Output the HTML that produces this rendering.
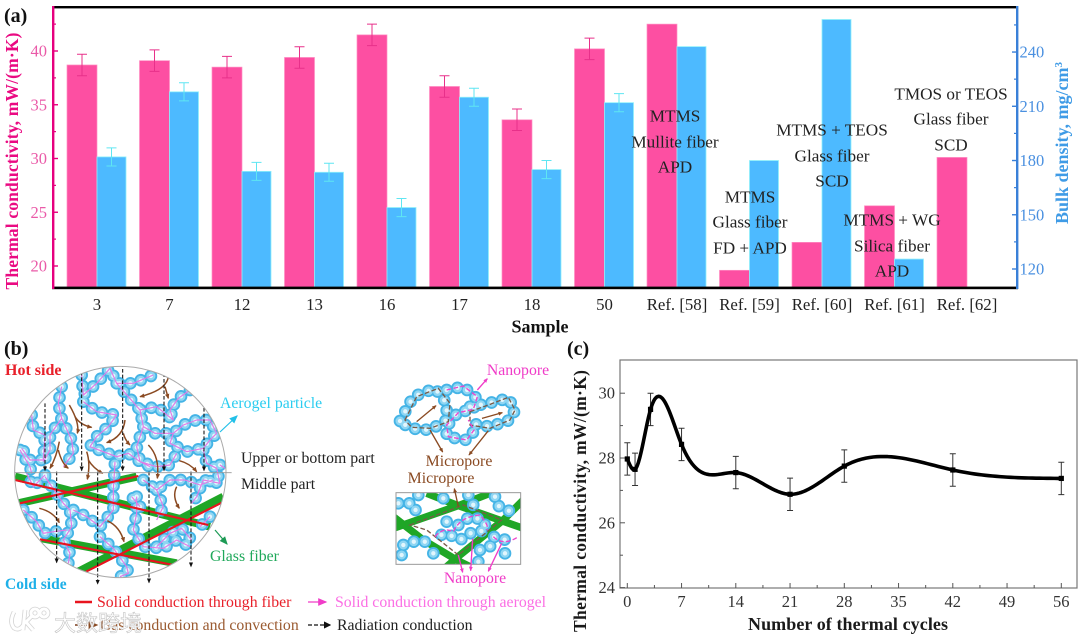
<!DOCTYPE html>
<html lang="en">
<head>
<meta charset="utf-8">
<title>Thermal conductivity of aerogel composites</title>
<style>
html,body{margin:0;padding:0;background:#fff;}
#figure{display:block;width:1080px;height:640px;font-family:"Liberation Serif","Noto Serif CJK SC",serif;filter:blur(.35px);}
text{font-family:"Liberation Serif","Noto Serif CJK SC",serif;}
.ann{font-size:17.2px;fill:#222;text-anchor:middle;}
.lab{font-size:15.8px;}
.chain-o{fill:none;stroke:#45b4e6;stroke-width:38;stroke-linecap:round;stroke-dasharray:0 33;}
.chain-m{fill:none;stroke:#8fd6f3;stroke-width:27;stroke-linecap:round;stroke-dasharray:0 33;}
.chain-i{fill:none;stroke:#e2f6fd;stroke-width:13;stroke-linecap:round;stroke-dasharray:0 33;}
.chain-p{fill:none;stroke:#e27ae6;stroke-width:3.5;stroke-linejoin:round;}
</style>
</head>
<body>
<svg id="figure" xmlns="http://www.w3.org/2000/svg" width="1080" height="640" viewBox="0 0 1080 640">
<defs>
  <marker id="ah-k" markerWidth="6" markerHeight="6" refX="5" refY="3" orient="auto"><path d="M0,0L6,3L0,6Z" fill="#111"/></marker>
  <marker id="ah-b" markerWidth="7" markerHeight="7" refX="6" refY="3.5" orient="auto"><path d="M0,0.5L7,3.5L0,6.5Z" fill="#8a4a22"/></marker>
  <marker id="ah-m" markerWidth="7" markerHeight="7" refX="6" refY="3.5" orient="auto"><path d="M0,0.5L7,3.5L0,6.5Z" fill="#f03cc8"/></marker>
  <marker id="ah-c" markerWidth="7" markerHeight="7" refX="6" refY="3.5" orient="auto"><path d="M0,0.5L7,3.5L0,6.5Z" fill="#22c0e8"/></marker>
  <marker id="ah-g" markerWidth="7" markerHeight="7" refX="6" refY="3.5" orient="auto"><path d="M0,0.5L7,3.5L0,6.5Z" fill="#1d9a55"/></marker>
  <marker id="ah-ks" markerWidth="4.5" markerHeight="4.5" viewBox="0 0 7 7" refX="6" refY="3.5" orient="auto"><path d="M0,0.5L7,3.5L0,6.5Z" fill="#111"/></marker>
  <marker id="ah-bs" markerWidth="3.4" markerHeight="3.4" viewBox="0 0 7 7" refX="6" refY="3.5" orient="auto"><path d="M0,0.5L7,3.5L0,6.5Z" fill="#8a4a22"/></marker>
  <marker id="ah-ms" markerWidth="3.4" markerHeight="3.4" viewBox="0 0 7 7" refX="6" refY="3.5" orient="auto"><path d="M0,0.5L7,3.5L0,6.5Z" fill="#f03cc8"/></marker>
  <clipPath id="clip-disc"><circle cx="361" cy="396" r="317"/></clipPath>
  <clipPath id="clip-box"><rect x="378" y="458" width="374" height="215"/></clipPath>
  <path id="chains-main" d="M95,225L100,270L135,285L130,360L90,360L65,325M185,140L175,190L185,235L150,285L150,330L130,365M245,105L250,165L290,130L330,85L350,130L400,130L460,105M250,185L290,215L350,225L325,260L290,290L270,320L310,335L350,350L385,340L420,365L450,380M350,130L385,170L420,210L430,260L465,280L520,280L550,255L590,240L630,240L650,280L630,300L610,325L560,335L510,310L520,280M570,150L535,175L510,210L520,240L470,200L420,210M185,235L215,300L220,340L190,380M430,260L410,320L420,365L470,380L510,375L530,340M610,330L620,370L650,385L660,430L610,420L590,470L575,490M135,405L100,440L80,400M135,410L190,490L210,510L215,560L190,600L210,640L205,670M70,510L110,545L130,580L160,575L200,570M220,510L260,530L300,560L340,510L340,450L345,365M300,590L340,625L380,680L385,700L360,710M410,470L410,520L400,570L430,620L490,625L530,600L570,620M430,420L470,450L510,420L555,420L600,435M470,450L490,500L470,540M630,530L600,560M60,330L90,380L95,400M470,620L510,580L545,565L575,600M600,435L640,420M660,375L675,385M420,500L395,470"/>
  <path id="chains-top" d="M390,243L430,170L495,145L530,190L530,240L480,270L420,265L390,243M530,150L580,140L620,175L610,210L565,215L530,260L530,290L590,300L615,270M600,200L655,190L715,175L735,210L720,240L660,260L600,250"/>
  <path id="chains-box" d="M385,490L430,490L440,520M445,465L446,466M520,475L510,500M595,465L610,495M675,470L680,495L710,510L740,520M530,545L515,570M565,555L600,530L640,540L650,570L600,580L570,600L530,580L495,590M400,615L430,605L465,605M395,645L410,670M490,640L505,665M630,630L660,620L670,590L700,600L735,590M705,640L725,665M625,665L626,666"/>
</defs>

<rect x="0" y="0" width="1080" height="640" fill="#fff"/>

<!-- Panel (a) -->
<g id="panel-a">
  <text x="4" y="22" font-size="20" font-weight="bold" fill="#111">(a)</text>
  <g id="a-marks"></g>
  <rect x="52" y="6" width="966" height="2.4" fill="#000"/>
  <rect x="52" y="286.6" width="966" height="2.6" fill="#000"/>
  <rect x="52" y="6" width="2.4" height="283" fill="#e6007e"/>
  <rect x="1016" y="6" width="2.4" height="283" fill="#3a80d8"/>
  <g id="a-axes"></g>
  <text transform="translate(18,161) rotate(-90)" font-size="17.5" font-weight="bold" fill="#ea0a82" text-anchor="middle" textLength="257">Thermal conductivity, mW/(m·K)</text>
  <text transform="translate(1068,143) rotate(-90)" font-size="18" font-weight="bold" fill="#3f9be6" text-anchor="middle">Bulk density, mg/cm<tspan dy="-6" font-size="11">3</tspan></text>
  <text x="540" y="332.5" font-size="18" font-weight="bold" fill="#111" text-anchor="middle">Sample</text>
  <g>
    <text class="ann" x="675" y="121.5">MTMS</text><text class="ann" x="675" y="147.5">Mullite fiber</text><text class="ann" x="675" y="172.5">APD</text>
  </g>
  <g>
    <text class="ann" x="750" y="202.5">MTMS</text><text class="ann" x="750" y="227.5">Glass fiber</text><text class="ann" x="750" y="253.5">FD + APD</text>
  </g>
  <g>
    <text class="ann" x="832" y="135.5">MTMS + TEOS</text><text class="ann" x="832" y="161.5">Glass fiber</text><text class="ann" x="832" y="186.5">SCD</text>
  </g>
  <g>
    <text class="ann" x="892" y="225.5">MTMS + WG</text><text class="ann" x="892" y="251.5">Silica fiber</text><text class="ann" x="892" y="276.5">APD</text>
  </g>
  <g>
    <text class="ann" x="951" y="99.5">TMOS or TEOS</text><text class="ann" x="951" y="124.5">Glass fiber</text><text class="ann" x="951" y="150.5">SCD</text>
  </g>
</g>

<!-- Panel (b) -->
<g id="panel-b">
  <text x="4" y="355" font-size="20" font-weight="bold" fill="#111">(b)</text>
  <text x="5" y="375" font-size="16" font-weight="bold" fill="#e8202a">Hot side</text>
  <text x="5" y="589" font-size="15.5" font-weight="bold" fill="#1fb0e8">Cold side</text>
  <g transform="translate(0,340) scale(.33333)">
    <g clip-path="url(#clip-disc)">
      <g fill="none" stroke="#1fa626" stroke-width="24">
        <path d="M45,410L630,560"/><path d="M55,490L410,410"/><path d="M235,695L670,470"/><path d="M125,595L530,670"/>
      </g>
      <use href="#chains-main" class="chain-o"/>
      <use href="#chains-main" class="chain-m"/>
      <use href="#chains-main" class="chain-i"/>
      <use href="#chains-main" class="chain-p"/>
      <g fill="none" stroke="#e8141e" stroke-width="6.5">
        <path d="M45,420L625,555"/><path d="M60,490L415,408"/><path d="M258,695L665,488"/><path d="M120,598L520,675"/>
      </g>
      <g fill="none" stroke="#8a4a22" stroke-width="4.5">
        <path d="M505,110Q500,150 420,170" marker-end="url(#ah-bs)"/><path d="M495,140L505,175" marker-end="url(#ah-bs)"/>
        <path d="M208,195Q240,250 232,280" marker-end="url(#ah-bs)"/><path d="M225,230Q240,255 275,262" marker-end="url(#ah-bs)"/>
        <path d="M178,305Q170,350 150,385" marker-end="url(#ah-bs)"/><path d="M175,330Q185,370 205,385" marker-end="url(#ah-bs)"/>
        <path d="M260,335Q272,370 262,418" marker-end="url(#ah-bs)"/><path d="M265,360Q280,385 308,400" marker-end="url(#ah-bs)"/>
        <path d="M375,240Q370,290 320,308" marker-end="url(#ah-bs)"/><path d="M370,280Q375,300 390,315" marker-end="url(#ah-bs)"/>
        <path d="M445,315Q480,350 472,415" marker-end="url(#ah-bs)"/><path d="M538,362Q570,370 590,395" marker-end="url(#ah-bs)"/>
        <path d="M530,440Q515,470 538,505" marker-end="url(#ah-bs)"/><path d="M118,505Q160,515 178,548" marker-end="url(#ah-bs)"/>
        <path d="M322,542Q360,560 372,605" marker-end="url(#ah-bs)"/>
      </g>
      <g fill="none" stroke="#111" stroke-width="3.2" stroke-dasharray="11 6">
        <path d="M135,190V392" marker-end="url(#ah-ks)"/><path d="M245,95V392" marker-end="url(#ah-ks)"/><path d="M368,70V392" marker-end="url(#ah-ks)"/><path d="M492,100V392" marker-end="url(#ah-ks)"/><path d="M612,170V392" marker-end="url(#ah-ks)"/>
      </g>
    </g>
    <g fill="none" stroke="#111" stroke-width="3.2" stroke-dasharray="11 6">
      <path d="M170,395V668" marker-end="url(#ah-ks)"/><path d="M293,395V732" marker-end="url(#ah-ks)"/><path d="M447,395V728" marker-end="url(#ah-ks)"/><path d="M573,395V680" marker-end="url(#ah-ks)"/>
    </g>
    <circle cx="361" cy="396" r="317" fill="none" stroke="#aaa" stroke-width="3"/>
    <path d="M44,398H695" stroke="#999" stroke-width="2.5"/>
  </g>
  <text class="lab" x="220" y="408" fill="#2bcdf0">Aerogel particle</text>
  <path d="M220,432L237,416" stroke="#22c0e8" stroke-width="1.2" fill="none" marker-end="url(#ah-c)"/>
  <text class="lab" x="241" y="463" fill="#222">Upper or bottom part</text>
  <text class="lab" x="241" y="489" fill="#222">Middle part</text>
  <text class="lab" x="210" y="561" fill="#1fa85a">Glass fiber</text>
  <path d="M215,530L227,544" stroke="#1d9a55" stroke-width="1.2" fill="none" marker-end="url(#ah-g)"/>

  <g transform="translate(270,340) scale(.33333)">
    <g>
      <use href="#chains-top" class="chain-o"/>
      <use href="#chains-top" class="chain-m"/>
      <use href="#chains-top" class="chain-i"/>
      <path d="M405,240L440,170L505,145L540,190L535,245L480,265L425,262Z" fill="none" stroke="#7a5a46" stroke-width="4" stroke-dasharray="14 7"/>
      <path d="M600,215L655,195L715,172L735,210L720,240L660,265L600,255Z" fill="none" stroke="#7a5a46" stroke-width="4" stroke-dasharray="14 7"/>
      <path d="M530,150L580,138L622,170L610,208L565,218L530,255L535,290L590,300L612,270L595,240" fill="none" stroke="#ee44cc" stroke-width="4" stroke-dasharray="14 7"/>
      <g fill="none" stroke="#8a4a22" stroke-width="4">
        <path d="M440,245L498,197" marker-end="url(#ah-bs)"/><path d="M636,235L697,218" marker-end="url(#ah-bs)"/>
        <path d="M480,270L518,336" marker-end="url(#ah-bs)"/><path d="M655,272L597,345" marker-end="url(#ah-bs)"/>
      </g>
      <path d="M622,150L652,116" stroke="#f03cc8" stroke-width="4" fill="none" marker-end="url(#ah-ms)"/>
    </g>
    <g>
      <g clip-path="url(#clip-box)">
        <rect x="378" y="458" width="374" height="215" fill="#fff"/>
        <g fill="none" stroke="#1fa626" stroke-width="22">
          <path d="M370,565L570,495L660,460"/><path d="M470,460L560,495L760,565"/>
          <path d="M370,530L460,600L560,660L600,680"/><path d="M530,680L570,645L700,540L760,480"/>
        </g>
        <use href="#chains-box" class="chain-o"/>
        <use href="#chains-box" class="chain-m"/>
        <use href="#chains-box" class="chain-i"/>
        <path d="M420,555L580,495L695,540L565,645L470,570Z" fill="none" stroke="#7a5a46" stroke-width="4" stroke-dasharray="14 7"/>
        <path d="M495,590Q520,560 550,575Q570,530 630,525Q660,560 650,570M670,590Q700,620 745,590" fill="none" stroke="#ee44cc" stroke-width="4" stroke-dasharray="14 7"/>
      </g>
      <rect x="378" y="458" width="374" height="215" fill="none" stroke="#999" stroke-width="3"/>
      <path d="M565,500L553,446" stroke="#8a4a22" stroke-width="4" fill="none" marker-end="url(#ah-bs)"/>
      <g fill="none" stroke="#f03cc8" stroke-width="4">
        <path d="M565,645L578,697" marker-end="url(#ah-ms)"/><path d="M608,596L602,692" marker-end="url(#ah-ms)"/><path d="M695,610L655,694" marker-end="url(#ah-ms)"/>
      </g>
    </g>
  </g>
  <text class="lab" x="518" y="375" fill="#f03cc8" text-anchor="middle">Nanopore</text>
  <text class="lab" x="459" y="466" fill="#8a4a22" text-anchor="middle">Micropore</text>
  <text class="lab" x="441" y="483" fill="#8a4a22" text-anchor="middle">Micropore</text>
  <text class="lab" x="475" y="583" fill="#f03cc8" text-anchor="middle">Nanopore</text>

  <g>
    <path d="M75,602H92" stroke="#e8141e" stroke-width="2.6"/>
    <text class="lab" x="97" y="607" fill="#e8202a">Solid conduction through fiber</text>
    <path d="M308,602H326" stroke="#f03cc8" stroke-width="1.3" marker-end="url(#ah-m)"/>
    <text class="lab" x="335" y="607" fill="#fb6fe4">Solid conduction through aerogel</text>
    <path d="M75,625H97" stroke="#7a3a18" stroke-width="1.4" stroke-dasharray="3 1.5" marker-end="url(#ah-b)"/>
    <text class="lab" x="100" y="630" fill="#9a5a30">Gas conduction and convection</text>
    <path d="M308,625H330" stroke="#111" stroke-width="1.2" stroke-dasharray="4 2" marker-end="url(#ah-k)"/>
    <text class="lab" x="337" y="630" fill="#222">Radiation conduction</text>
  </g>
</g>

<!-- Panel (c) -->
<g id="panel-c">
  <text x="567" y="355" font-size="20" font-weight="bold" fill="#111">(c)</text>
  <rect x="620" y="360" width="457" height="228" fill="none" stroke="#777" stroke-width="1.2"/>
  <g id="c-axes"></g>
  <g id="c-marks"></g>
  <text transform="translate(586,501) rotate(-90)" font-size="17.5" font-weight="bold" fill="#1a1a1a" text-anchor="middle" textLength="262">Thermal conductivity, mW/(m·K)</text>
  <text x="848" y="630" font-size="18" font-weight="bold" fill="#1a1a1a" text-anchor="middle" textLength="200">Number of thermal cycles</text>
</g>

<!-- Watermark -->
<g>
  <g fill="none">
    <g stroke="#d4d4d4" stroke-width="4.6">
      <path d="M14,612Q9,622 14,628Q20,632 25,622M25,610L23,630M32,616L26,622L33,630"/>
      <circle cx="35" cy="613" r="4"/><circle cx="44" cy="613" r="4"/>
    </g>
    <g stroke="#fff" stroke-width="3">
      <path d="M14,612Q9,622 14,628Q20,632 25,622M25,610L23,630M32,616L26,622L33,630"/>
      <circle cx="35" cy="613" r="4"/><circle cx="44" cy="613" r="4"/>
    </g>
  </g>
  <text x="54" y="631" font-size="22" fill="#fff" fill-opacity=".94" stroke="#c4c4c4" stroke-width=".6" style='font-family:"Noto Sans CJK SC",sans-serif'>大数跨境</text>
</g>

<script>
// Panel (a) data
var sampleLabels = ['3','7','12','13','16','17','18','50','Ref. [58]','Ref. [59]','Ref. [60]','Ref. [61]','Ref. [62]'];
var conductivity = [38.7,39.1,38.5,39.4,41.5,36.7,33.6,40.2,42.5,19.6,22.2,25.6,30.1];
var conductivityErr = [1,1,1,1,1,1,1,1,0,0,0,0,0];
var density = [182,218,174,173.5,154,215,175,212,243,180,258,125.5,null];
var densityErr = [5,5,5,5,5,5,5,5,0,0,0,0,0];
var leftTicks = [20,25,30,35,40];
var leftMinorTicks = [22.5,27.5,32.5,37.5,42.5];
var rightTicks = [120,150,180,210,240];
var rightMinorTicks = [135,165,195,225,255];

// Panel (c) data
var cycles = [0,1,3,7,14,21,28,42,56];
var cycleConductivity = [27.97,27.65,29.5,28.42,27.55,26.88,27.75,27.63,27.37];
var cycleErr = [0.5,0.5,0.5,0.5,0.5,0.5,0.5,0.5,0.5];
var cycleTicks = [0,7,14,21,28,35,42,49,56];
var cycleMinorTicks = [3.5,10.5,17.5,24.5,31.5,38.5,45.5,52.5];
var cycleYTicks = [24,26,28,30];
var cycleYMinorTicks = [25,27,29];

var NS = 'http://www.w3.org/2000/svg';
function make(parent, tag, attrs, txt) {
  var el = document.createElementNS(NS, tag);
  for (var k in attrs) { el.setAttribute(k, attrs[k]); }
  if (txt !== undefined) { el.textContent = txt; }
  parent.appendChild(el);
  return el;
}

// Panel (a) axis functions
function aBand(i) { return 97 + 72.5 * i; }
function aLeft(v) { return 266 - (v - 20) * 10.75; }
function aRight(v) { return 269 - (v - 120) * 1.808; }
var aBase = 287;

var aMarks = document.getElementById('a-marks');
var aAxes = document.getElementById('a-axes');

function errBar(parent, cx, top, bottom, color, name) {
  var g = make(parent, 'path', {
    d: 'M' + cx + ',' + top + 'V' + bottom + 'M' + (cx - 5) + ',' + top + 'H' + (cx + 5) + 'M' + (cx - 5) + ',' + bottom + 'H' + (cx + 5),
    stroke: color, 'stroke-width': 1, fill: 'none'
  });
  
  
}

sampleLabels.forEach(function (label, i) {
  var c = aBand(i);
  var pv = conductivity[i];
  var pTop = aLeft(pv);
  var pink = make(aMarks, 'rect', { x: c - 30, y: pTop, width: 30, height: aBase - pTop, fill: '#fd4fa2', stroke: '#ff8fc4', 'stroke-width': .7 });
  
  
  var bv = density[i];
  if (bv !== null) {
    var bTop = aRight(bv);
    var blue = make(aMarks, 'rect', { x: c, y: bTop, width: 29, height: aBase - bTop, fill: '#4dbaff', stroke: '#8ff0fa', 'stroke-width': .8 });
    
    
  }
  if (conductivityErr[i] > 0) {
    errBar(aMarks, c - 15, aLeft(pv + conductivityErr[i]), aLeft(pv - conductivityErr[i]), '#e8308a', 'conductivity-error-' + i);
  }
  if (bv !== null && densityErr[i] > 0) {
    errBar(aMarks, c + 14.5, aRight(bv + densityErr[i]), aRight(bv - densityErr[i]), '#5fe6f2', 'density-error-' + i);
  }
  var t = make(aAxes, 'text', { x: c, y: 310, 'font-size': 16.8, fill: '#222', 'text-anchor': 'middle' }, label);
  
  
});

leftTicks.forEach(function (v) {
  var y = aLeft(v);
  var tk = make(aAxes, 'path', { d: 'M54,' + y + 'H58', stroke: '#e6007e', 'stroke-width': 1.4 });
  
  
  var lb = make(aAxes, 'text', { x: 47, y: y + 5.5, 'font-size': 16.5, fill: '#ea5aa8', 'text-anchor': 'end' }, v);
  
  
});
leftMinorTicks.forEach(function (v) {
  var mt = make(aAxes, 'path', { d: 'M54,' + aLeft(v) + 'H56', stroke: '#e6007e', 'stroke-width': 1.2 });
  
  
});
rightTicks.forEach(function (v) {
  var y = aRight(v);
  var tk = make(aAxes, 'path', { d: 'M1012,' + y + 'H1016', stroke: '#3a80d8', 'stroke-width': 1.4 });
  
  
  var lb = make(aAxes, 'text', { x: 1019.5, y: y + 5.5, 'font-size': 16.5, fill: '#4a90e0' }, v);
  
  
});
rightMinorTicks.forEach(function (v) {
  var mt = make(aAxes, 'path', { d: 'M1014,' + aRight(v) + 'H1016', stroke: '#3a80d8', 'stroke-width': 1.2 });
  
  
});

// Panel (c) axis functions
function cX(v) { return 627.3 + v * 7.75; }
function cY(v) { return 587.6 - (v - 24) * 32.4; }
var cAxes = document.getElementById('c-axes');
var cMarks = document.getElementById('c-marks');

cycleTicks.forEach(function (v) {
  var tk = make(cAxes, 'path', { d: 'M' + cX(v) + ',588V583', stroke: '#555', 'stroke-width': 1 });
  
  
  var lb = make(cAxes, 'text', { x: cX(v), y: 607, 'font-size': 16.5, fill: '#333', 'text-anchor': 'middle' }, v);
  
  
});
cycleMinorTicks.forEach(function (v) {
  var mt = make(cAxes, 'path', { d: 'M' + cX(v) + ',588V585', stroke: '#555', 'stroke-width': 1 });
  
  
});
cycleYTicks.forEach(function (v) {
  var y = cY(v);
  var tk = make(cAxes, 'path', { d: 'M620,' + y + 'H625', stroke: '#555', 'stroke-width': 1 });
  
  
  var lb = make(cAxes, 'text', { x: 615, y: y + 5.5, 'font-size': 16.5, fill: '#333', 'text-anchor': 'end' }, v);
  
  
});
cycleYMinorTicks.forEach(function (v) {
  var mt = make(cAxes, 'path', { d: 'M620,' + cY(v) + 'H623', stroke: '#555', 'stroke-width': 1 });
  
  
});

// Natural cubic spline through the measured points
function splinePath(xs, ys) {
  var n = xs.length, h = [], a = [], l = [1], mu = [0], z = [0], c = [], b = [], d = [];
  var i;
  for (i = 0; i < n - 1; i++) { h[i] = xs[i + 1] - xs[i]; }
  for (i = 1; i < n - 1; i++) { a[i] = 3 * (ys[i + 1] - ys[i]) / h[i] - 3 * (ys[i] - ys[i - 1]) / h[i - 1]; }
  for (i = 1; i < n - 1; i++) {
    l[i] = 2 * (xs[i + 1] - xs[i - 1]) - h[i - 1] * mu[i - 1];
    mu[i] = h[i] / l[i];
    z[i] = (a[i] - h[i - 1] * z[i - 1]) / l[i];
  }
  c[n - 1] = 0;
  for (i = n - 2; i >= 0; i--) {
    c[i] = z[i] - mu[i] * c[i + 1];
    b[i] = (ys[i + 1] - ys[i]) / h[i] - h[i] * (c[i + 1] + 2 * c[i]) / 3;
    d[i] = (c[i + 1] - c[i]) / (3 * h[i]);
  }
  var path = 'M' + cX(xs[0]).toFixed(2) + ',' + cY(ys[0]).toFixed(2);
  for (i = 0; i < n - 1; i++) {
    for (var s = 1; s <= 30; s++) {
      var dx = h[i] * s / 30;
      var yy = ys[i] + b[i] * dx + c[i] * dx * dx + d[i] * dx * dx * dx;
      path += 'L' + cX(xs[i] + dx).toFixed(2) + ',' + cY(yy).toFixed(2);
    }
  }
  return path;
}

cycles.forEach(function (v, i) {
  var cx = cX(v), top = cY(cycleConductivity[i] + cycleErr[i]), bot = cY(cycleConductivity[i] - cycleErr[i]);
  var eb = make(cMarks, 'path', {
    d: 'M' + cx + ',' + top + 'V' + bot + 'M' + (cx - 3) + ',' + top + 'H' + (cx + 3) + 'M' + (cx - 3) + ',' + bot + 'H' + (cx + 3),
    stroke: '#333', 'stroke-width': 1, fill: 'none'
  });
  
  
});

var cLine = make(cMarks, 'path', { d: splinePath(cycles, cycleConductivity), fill: 'none', stroke: '#000', 'stroke-width': 3.6, 'stroke-linejoin': 'round' });



cycles.forEach(function (v, i) {
  var pt = make(cMarks, 'rect', { x: cX(v) - 2.6, y: cY(cycleConductivity[i]) - 2.6, width: 5.2, height: 5.2, fill: '#000' });
  
  
});
</script>
</svg>
</body>
</html>
